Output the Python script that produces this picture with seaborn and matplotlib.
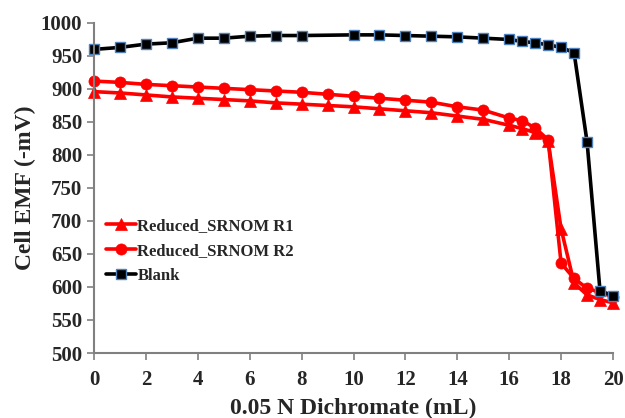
import pandas as pd
import seaborn as sns
import matplotlib.pyplot as plt

# volumes of 0.05 N dichromate added (mL)
x_red = [0, 1, 2, 3, 4, 5, 6, 7, 8, 9, 10, 11, 12, 13, 14, 15, 16, 16.5, 17, 17.5,
         18, 18.5, 19, 19.5, 20]
x_blank = [0, 1, 2, 3, 4, 5, 6, 7, 8, 10, 11, 12, 13, 14, 15, 16, 16.5, 17, 17.5,
           18, 18.5, 19, 19.5, 20]

# cell EMF readings (-mV)
r1 = [896, 894, 891, 888, 886, 884, 882, 879, 877, 875, 873, 870, 867, 864, 859,
      854, 845, 840, 834, 821, 688, 606, 588, 581, 576]
r2 = [912, 910, 907, 905, 903, 901, 899, 897, 895, 892, 889, 886, 883, 880, 873,
      868, 856, 852, 841, 823, 636, 613, 598, 592, 585]
blank = [960, 963, 968, 970, 977, 977, 980, 981, 981, 982, 982, 981, 980, 979, 977,
         975, 972, 970, 967, 963, 955, 820, 594, 587]

labels = ["Reduced_SRNOM R1", "Reduced_SRNOM R2", "Blank"]

df_r1 = pd.DataFrame({"x": x_red, "y": r1})
df_r2 = pd.DataFrame({"x": x_red, "y": r2})
df_blank = pd.DataFrame({"x": x_blank, "y": blank})

sns.set_style("ticks")
plt.rcParams["font.family"] = ["Liberation Serif", "DejaVu Serif"]
plt.rcParams["font.weight"] = "bold"

fig = plt.figure(figsize=(6.25, 4.18), dpi=100)
ax = fig.add_axes([0.1504, 0.1555, 0.8304, 0.7895])

# red triangles
sns.lineplot(data=df_r1, x="x", y="y", ax=ax, color="#ff0000", linewidth=2.6,
             marker="^", markersize=8, markeredgecolor="#ff0000", markeredgewidth=0.5,
             label=labels[0], sort=False, clip_on=False)

# red circles
sns.lineplot(data=df_r2, x="x", y="y", ax=ax, color="#ff0000", linewidth=2.6,
             marker="o", markersize=8, markeredgecolor="#ff0000", markeredgewidth=0.5,
             label=labels[1], sort=False, clip_on=False)

# black squares with blue edge
sns.lineplot(data=df_blank, x="x", y="y", ax=ax, color="black", linewidth=2.6,
             marker="s", markersize=7.5, markerfacecolor="black",
             markeredgecolor="#4f81bd", markeredgewidth=1.0,
             label=labels[2], sort=False, clip_on=False)

ax.set_xlim(0, 20)
ax.set_ylim(500, 1000)
ax.set_xticks(range(0, 21, 2))
ax.set_yticks(range(500, 1001, 50))

ax.set_xlabel("0.05 N Dichromate (mL)", fontsize=17, fontweight="bold", labelpad=6)
ax.set_ylabel("Cell EMF (-mV)", fontsize=17, fontweight="bold", labelpad=3)
ax.tick_params(axis="both", labelsize=15, direction="out", length=5, width=1.2,
               color="#808080")
ax.tick_params(axis="x", pad=7)
for lab in ax.get_xticklabels() + ax.get_yticklabels():
    lab.set_fontweight("bold")

sns.despine(ax=ax)
for side in ["left", "bottom"]:
    ax.spines[side].set_color("#808080")
    ax.spines[side].set_linewidth(1.5)

ax.legend(loc="upper left", bbox_to_anchor=(0.0, 0.445), frameon=False,
          prop={"family": "Liberation Serif", "weight": "bold", "size": 12},
          handlelength=1.8, handletextpad=0.1, labelspacing=0.55, borderaxespad=0.3)

fig.savefig("out.png", dpi=100)
